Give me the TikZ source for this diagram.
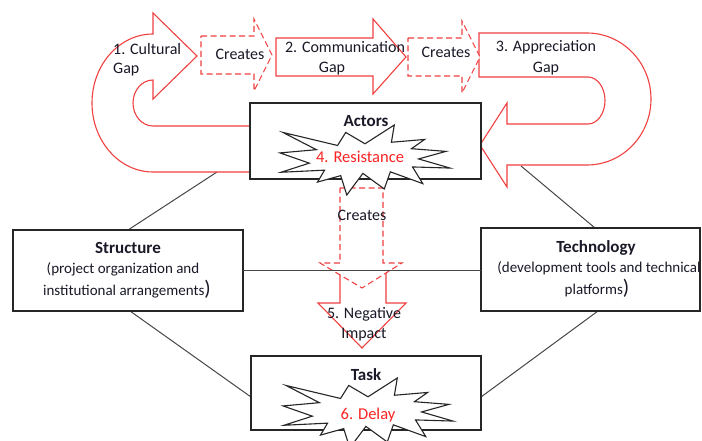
\documentclass[tikz,border=0pt]{standalone}
\usepackage{fontspec}
\setmainfont{Carlito}
\definecolor{arrowred}{RGB}{240,64,64}
\definecolor{textred}{RGB}{250,35,35}
\definecolor{linegray}{RGB}{70,70,70}
\definecolor{textdark}{RGB}{25,25,40}
\tikzset{
  redarrow/.style={draw=arrowred, line width=1.1pt, fill=white, line join=miter},
  dasharrow/.style={redarrow, dash pattern=on 6pt off 3.5pt},
  boxstyle/.style={draw=black!85, line width=1.1pt, fill=white},
  link/.style={draw=linegray, line width=1pt},
  burststyle/.style={draw=black!85, line width=1.1pt, fill=white, line join=miter},
  lbl/.style={font=\fontsize{16}{19}\selectfont, text=textdark, inner sep=0pt, anchor=base},
  boldlbl/.style={font=\fontsize{17}{20}\selectfont\bfseries, text=textdark, inner sep=0pt, anchor=base},
  sublbl/.style={font=\fontsize{15}{18}\selectfont, text=textdark, inner sep=0pt, anchor=base},
  redlbl/.style={font=\fontsize{16.5}{19}\selectfont, text=textred, inner sep=0pt, anchor=base},
}
\newcommand{\drawburst}[2]{%
  \begin{scope}[shift={(#1,#2)}, x=0.787pt, y=-0.324pt]
    \draw[burststyle] (108,58) -- (145.22,0) -- (141.55,53.25) -- (183.80,44.57) -- (167.02,73.15)
      -- (210.97,81.37) -- (176.07,104.75) -- (216,132.90) -- (168.37,129.42) -- (181.45,180.95)
      -- (140.20,144.57) -- (132.47,197.37) -- (105.32,149.35) -- (84.85,216) -- (77.15,156.27)
      -- (47.62,176.17) -- (56.67,139.37) -- (1.35,145.87) -- (37.22,117.75) -- (0,86.15)
      -- (46.27,76.17) -- (3.70,22.95) -- (73.12,63.20) -- (83.52,22.95) -- cycle;
  \end{scope}}
\newcommand{\bigparen}{{\fontsize{21}{21}\selectfont)}}
\begin{document}
\begin{tikzpicture}[x=1pt, y=-1pt]
  \useasboundingbox (0,0) rectangle (702,441);

  % boxes' anchor points
  \coordinate (sTop) at (128,230);
  \coordinate (aLow) at (217,172);
  \coordinate (tTop) at (595,228);
  \coordinate (aLowR) at (521,166);
  \coordinate (sBot) at (130,311);
  \coordinate (kLeft) at (251,397);
  \coordinate (tBot) at (598,311);
  \coordinate (kRight) at (481,397);
  \coordinate (sRight) at (243,270);
  \coordinate (tLeft) at (481,270);

  % links behind arrows
  \draw[link] (sTop) -- (aLow);
  \draw[link] (tTop) -- (aLowR);
  \draw[link] (sBot) -- (kLeft);
  \draw[link] (tBot) -- (kRight);

  % 1. Cultural Gap U-arrow
  \path[redarrow] (250,172) -- (153,172)
     arc[start angle=270, end angle=90, x radius=61pt, y radius=69pt]
     -- (153,13) -- (197,56) -- (153,99) -- (153,80)
     arc[start angle=90, end angle=270, x radius=20pt, y radius=23pt]
     -- (250,126);
  \fill[white] (250,126) rectangle (252,172);

  % 3. Appreciation Gap U-arrow
  \draw[redarrow] (479,77) -- (479,33) -- (587,33)
     arc[start angle=90, end angle=-90, x radius=64pt, y radius=66pt]
     -- (507,165) -- (507,187) -- (480,145) -- (507,103) -- (507,124) -- (588,124)
     arc[start angle=-90, end angle=90, x radius=17pt, y radius=23.5pt]
     -- cycle;

  % 2. Communication Gap arrow
  \draw[redarrow] (276,38) -- (373,38) -- (373,19) -- (406,57) -- (373,94) -- (373,76) -- (276,76) -- cycle;

  % dashed "Creates" arrows
  \draw[dasharrow] (201,36) -- (254,36) -- (254,19) -- (272,55) -- (254,91) -- (254,74) -- (201,74) -- cycle;
  \draw[dasharrow] (408,38) -- (462,38) -- (462,21) -- (480,57) -- (462,93) -- (462,76) -- (408,76) -- cycle;

  % boxes
  \node[boxstyle, minimum width=231pt, minimum height=76pt, inner sep=0pt] (actors) at (365.5,141) {};
  \node[boxstyle, minimum width=230pt, minimum height=81pt, inner sep=0pt] (structure) at (128,270.5) {};
  \node[boxstyle, minimum width=219pt, minimum height=83pt, inner sep=0pt] (technology) at (590.5,269.5) {};
  \node[boxstyle, minimum width=230pt, minimum height=74pt, inner sep=0pt] (task) at (366,393) {};

  % 5. Negative Impact arrow and dashed Creates arrow
  \draw[redarrow] (340,270) -- (340,303) -- (318,303) -- (362,348) -- (406,303) -- (386,303) -- (386,270);
  \draw[dasharrow] (340,188) -- (383,188) -- (383,263) -- (402,263) -- (362,288) -- (320,263) -- (340,263) -- cycle;

  % horizontal link
  \draw[link] (sRight) -- (tLeft);

  % starbursts
  \drawburst{280}{125}
  \drawburst{283}{378}

  % texts
  \node[lbl, anchor=base west] (c1a) at (113,55) {1. Cultural};
  \node[lbl, anchor=base west] (c1b) at (113,74) {Gap};
  \node[lbl] (cr1) at (240,60) {Creates};
  \node[lbl] (c2a) at (345,53) {2. Communication};
  \node[lbl] (c2b) at (332,73) {Gap};
  \node[lbl] (cr2) at (446,58) {Creates};
  \node[lbl] (c3a) at (546,52) {3. Appreciation};
  \node[lbl] (c3b) at (546,73) {Gap};
  \node[boldlbl] (actorsT) at (366,127) {Actors};
  \node[redlbl] (resist) at (360,163) {4. Resistance};
  \node[lbl] (cr3) at (362,220) {Creates};
  \node[lbl] (neg1) at (364,318) {5. Negative};
  \node[lbl] (neg2) at (364,338) {Impact};
  \node[boldlbl] (structT) at (128,253) {Structure};
  \node[sublbl] (struct1) at (123,273) {(project organization and};
  \node[sublbl] (struct2) at (127,295) {institutional arrangements\bigparen};
  \node[boldlbl] (techT) at (596,252) {Technology};
  \node[sublbl] (tech1) at (599,272) {(development tools and technical};
  \node[sublbl] (tech2) at (597,294) {platforms\bigparen};
  \node[boldlbl] (taskT) at (366,380) {Task};
  \node[redlbl] (delay) at (368,419) {6. Delay};
\end{tikzpicture}
\end{document}
